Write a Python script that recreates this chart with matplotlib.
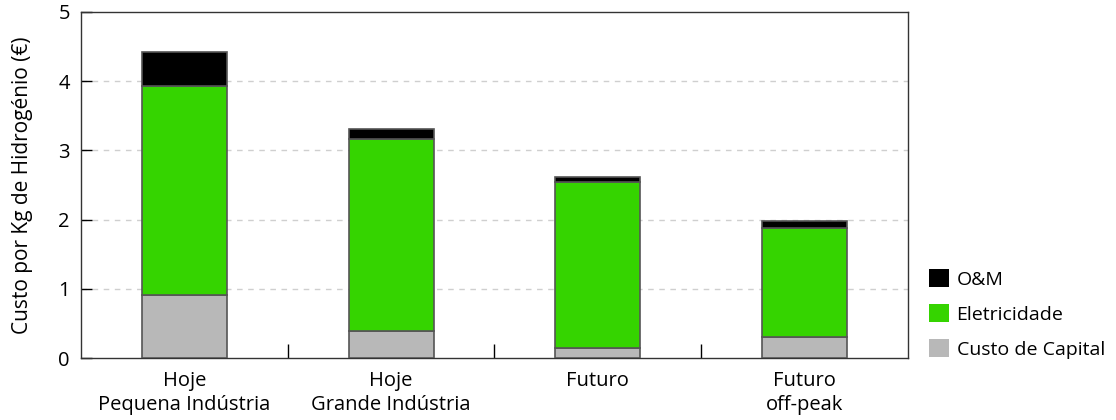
import matplotlib
matplotlib.use("Agg")
import matplotlib.pyplot as plt
from matplotlib.patches import Patch

plt.rcParams['font.family'] = ['Open Sans', 'DejaVu Sans']

# custo por kg de hidrogenio, por componente
cenarios = ["Hoje\nPequena Indústria", "Hoje\nGrande Indústria", "Futuro", "Futuro\noff-peak"]
capital = [0.91, 0.39, 0.14, 0.30]
eletricidade = [3.02, 2.77, 2.40, 1.58]
om = [0.49, 0.15, 0.08, 0.10]

cor_capital = "#b8b8b8"
cor_eletr = "#35d400"
cor_om = "#000000"

fig = plt.figure(figsize=(11.16, 4.2), dpi=100)
ax = fig.add_axes([0.0726, 0.1476, 0.741, 0.824])

x = list(range(len(cenarios)))
base2 = capital
base3 = [c + e for c, e in zip(capital, eletricidade)]
kw = dict(width=0.41, edgecolor="#555555", linewidth=1.2, zorder=3)
ax.bar(x, capital, color=cor_capital, **kw)
ax.bar(x, eletricidade, bottom=base2, color=cor_eletr, **kw)
ax.bar(x, om, bottom=base3, color=cor_om, **kw)

ax.set_xlim(-0.5, 3.5)
ax.set_ylim(0, 5)
ax.set_yticks([0, 1, 2, 3, 4, 5])
ax.set_xticks(x)
ax.set_xticklabels(cenarios, fontsize=14.5, linespacing=1.3)
ax.tick_params(axis="x", length=0, pad=9)
ax.set_xticks([0.5, 1.5, 2.5], minor=True)
ax.tick_params(axis="x", which="minor", direction="in", length=10, width=1)
ax.tick_params(axis="y", direction="in", length=8, width=1, labelsize=14.5, pad=8)
ax.tick_params(axis="y", which="both", right=False)

for v in [1, 2, 3, 4]:
    ax.axhline(v, color="#cfcfcf", linestyle=(0, (4, 4)), linewidth=1, zorder=1)

for s in ax.spines.values():
    s.set_color("#333333")
    s.set_linewidth(1)

ax.set_ylabel("Custo por Kg de Hidrogénio (€)", fontsize=15, labelpad=18)

handles = [Patch(facecolor=cor_om, edgecolor="none"),
           Patch(facecolor=cor_eletr, edgecolor="none"),
           Patch(facecolor=cor_capital, edgecolor="none")]
labels = ["O&M", "Eletricidade", "Custo de Capital"]
fig.legend(handles, labels, loc="lower left", bbox_to_anchor=(0.8205, 0.114),
           frameon=False, fontsize=14, handlelength=1.0, handleheight=1.0,
           handletextpad=0.4, labelspacing=0.8, borderaxespad=0.3)

fig.savefig("out.png", dpi=100)
